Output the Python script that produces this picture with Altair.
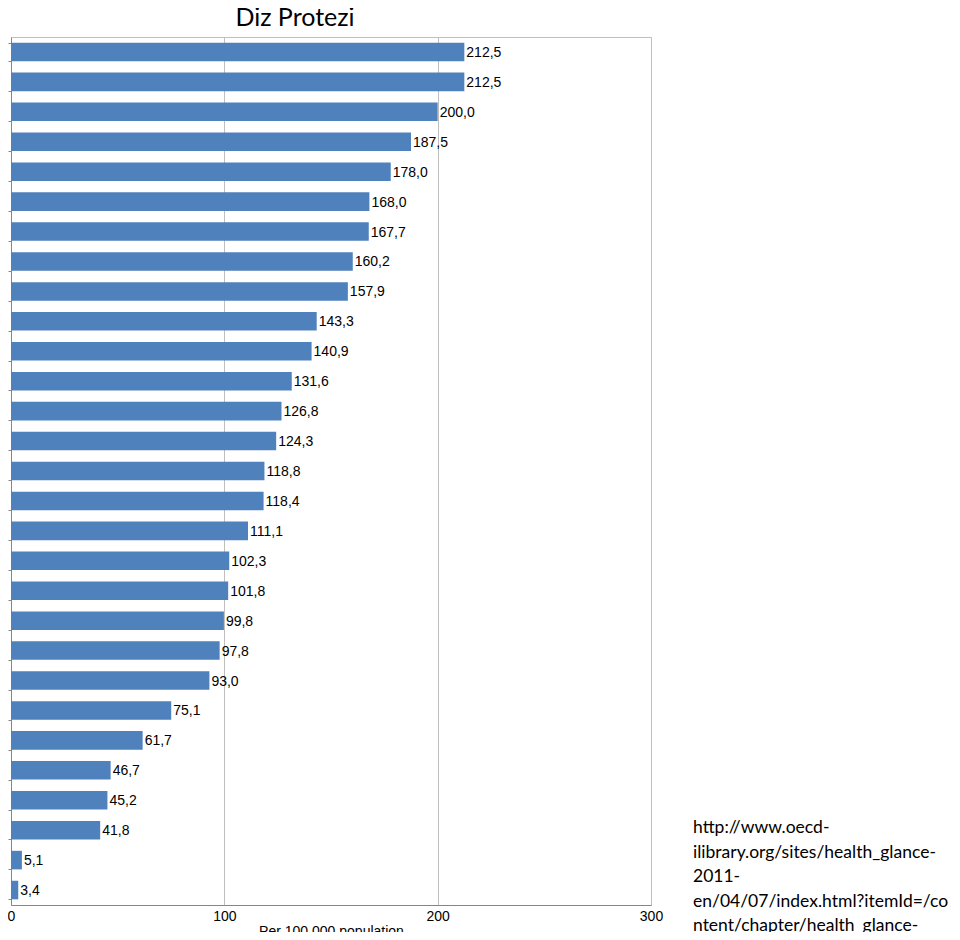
import altair as alt
import pandas as pd

# Bar values, top to bottom (per 100,000 population)
values = [212.5, 212.5, 200.0, 187.5, 178.0, 168.0, 167.7, 160.2, 157.9, 143.3,
          140.9, 131.6, 126.8, 124.3, 118.8, 118.4, 111.1, 102.3, 101.8, 99.8,
          97.8, 93.0, 75.1, 61.7, 46.7, 45.2, 41.8, 5.1, 3.4]
# Category labels are hidden in the reference; keep ordered placeholders
categories = [f"c{i:02d}" for i in range(1, len(values) + 1)]
# Data labels with comma decimal separator
labels = [f"{v:.1f}".replace(".", ",") for v in values]
x_ticks = [0, 100, 200, 300]

url_lines = ["http://www.oecd-",
             "ilibrary.org/sites/health_glance-",
             "2011-",
             "en/04/07/index.html?itemId=/co",
             "ntent/chapter/health_glance-",
             "2011-65-en"]

df = pd.DataFrame({"cat": categories, "value": values, "label": labels})

y_enc = alt.Y("cat:N", sort=None,
              scale=alt.Scale(paddingInner=0.38, paddingOuter=0.19),
              axis=alt.Axis(labels=False, title=None, domainColor="#868686",
                            tickColor="#868686", tickSize=3, tickBand="extent",
                            grid=False))
x_enc = alt.X("value:Q", scale=alt.Scale(domain=[0, 300], nice=False),
              axis=alt.Axis(values=x_ticks, title="Per 100,000 population",
                            gridColor="#BFBFBF", domainColor="#868686",
                            ticks=False, labelFont="Liberation Sans",
                            labelFontSize=14, labelColor="black",
                            labelPadding=4, titleFont="Liberation Sans",
                            titleFontSize=14, titleFontWeight="normal",
                            titleColor="black", titlePadding=1,
                            labelFlush=False))

base = alt.Chart(df)
bars = base.mark_bar(color="#4F81BD").encode(x=x_enc, y=y_enc)
text = base.mark_text(align="left", baseline="middle", dx=2, dy=1,
                      font="Liberation Sans", fontSize=14, color="black").encode(
    x="value:Q", y=alt.Y("cat:N", sort=None), text="label:N")

url = alt.Chart(pd.DataFrame({"t": ["\n".join(url_lines)]})).mark_text(
    align="left", baseline="alphabetic", lineBreak="\n", lineHeight=24.6,
    font="Lato", fontSize=17.5, color="black").encode(
    x=alt.value(682), y=alt.value(796), text="t:N")

chart = alt.layer(bars, text, url).properties(
    width=640, height=868,
    autosize=alt.AutoSizeParams(type="none"),
    padding={"left": 3, "top": 29, "right": 301, "bottom": 27},
    title=alt.TitleParams("Diz Protezi", font="Lato", fontSize=25,
                          fontWeight="normal", color="black", anchor="middle",
                          dx=-36, offset=6),
).configure_view(stroke="#BFBFBF")

chart.save("out.html", embed_options={"renderer": "svg", "actions": False})
